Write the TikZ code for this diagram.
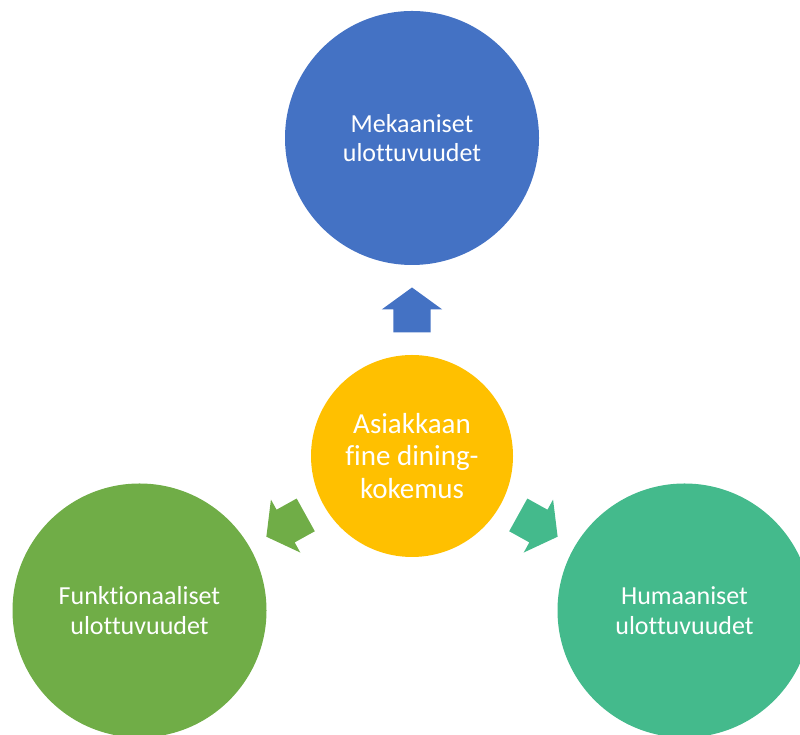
\documentclass[tikz,border=0pt]{standalone}
\usepackage{fontspec}
\setmainfont{Carlito}[Ligatures=NoCommon]
\usetikzlibrary{calc}
\definecolor{cblue}{HTML}{4472C4}
\definecolor{cgold}{HTML}{FFC000}
\definecolor{cgreen}{HTML}{70AD47}
\definecolor{cteal}{HTML}{44BA8C}
\tikzset{
  outer/.style={circle, minimum size=254pt, inner sep=0pt, text=white, align=center,
    font=\fontsize{26}{29.5}\selectfont},
  inner/.style={circle, minimum size=202pt, inner sep=0pt, text=white, align=center,
    font=\fontsize{29}{32.5}\selectfont},
}
\newcommand{\blockarrow}{(22.5,0) -- (0.5,30.3) -- (0.5,18.7) -- (-22.5,18.7) -- (-22.5,-18.7) -- (0.5,-18.7) -- (0.5,-30.3) -- cycle}
\begin{document}
\begin{tikzpicture}[x=1pt,y=1pt]
\useasboundingbox (0,0) rectangle (800,735);
\clip (0,0) rectangle (800,735);
\node[inner, fill=cgold] (c) at (412,279) {Asiakkaan\\fine dining-\\kokemus};
\node[outer, fill=cblue] (top) at (412,597) {Mekaaniset\\ulottuvuudet};
\node[outer, fill=cgreen] (left) at (139.5,124.5) {Funktionaaliset\\ulottuvuudet};
\node[outer, fill=cteal] (right) at (684.5,124.5) {Humaaniset\\ulottuvuudet};
\fill[cblue, shift={($(c)+(90:146)$)}, rotate=90] \blockarrow;
\fill[cgreen, shift={($(c)+(209:144)$)}, rotate=209] \blockarrow;
\fill[cteal, shift={($(c)+(331:144)$)}, rotate=331] \blockarrow;
\end{tikzpicture}
\end{document}
